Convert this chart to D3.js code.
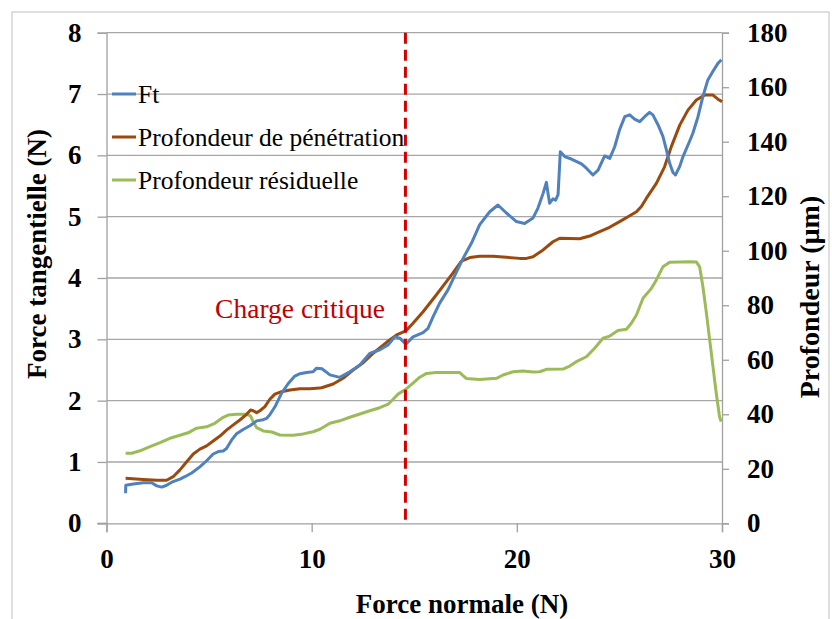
<!DOCTYPE html>
<html>
<head>
<meta charset="utf-8">
<script src="https://cdn.jsdelivr.net/npm/d3@7"></script>
<style>
  html, body { margin: 0; padding: 0; background: #fff; }
  svg { display: block; }
  text { font-family: "Liberation Serif", "Times New Roman", serif; }
</style>
</head>
<body>
<svg id="chart" width="832" height="619"></svg>
<script>
// Normal force (N) and tangential force Ft (N)
const ftNormal = [0.93, 0.94, 1.31, 1.79, 2.20, 2.45, 2.69, 2.93, 3.18, 3.58, 3.82, 4.15, 4.55, 4.88, 5.20, 5.45, 5.69, 5.85, 6.10, 6.34, 6.66, 6.99, 7.32, 7.64, 7.80, 7.96, 8.21, 8.53, 8.86, 9.18, 9.43, 9.75, 10.07, 10.24, 10.50, 10.89, 11.37, 11.86, 12.35, 12.83, 13.32, 13.73, 14.05, 14.30, 14.59, 14.94, 15.43, 15.67, 15.92, 16.24, 16.65, 17.06, 17.38, 17.79, 18.19, 18.68, 19.08, 19.49, 19.98, 20.38, 20.79, 21.03, 21.28, 21.44, 21.52, 21.60, 21.76, 21.89, 22.01, 22.12, 22.33, 22.66, 23.15, 23.39, 23.71, 23.96, 24.28, 24.53, 24.77, 25.01, 25.26, 25.50, 25.74, 25.99, 26.23, 26.47, 26.63, 26.88, 27.12, 27.29, 27.45, 27.61, 27.73, 27.94, 28.10, 28.42, 28.58, 28.83, 29.07, 29.31, 29.56, 29.80, 29.97];
const ftValues = [0.49, 0.62, 0.64, 0.66, 0.66, 0.61, 0.59, 0.62, 0.67, 0.72, 0.76, 0.82, 0.92, 1.02, 1.13, 1.17, 1.18, 1.22, 1.36, 1.46, 1.53, 1.59, 1.67, 1.69, 1.71, 1.77, 1.90, 2.12, 2.28, 2.40, 2.44, 2.46, 2.47, 2.53, 2.52, 2.42, 2.38, 2.47, 2.58, 2.77, 2.83, 2.91, 3.04, 3.02, 2.92, 3.04, 3.11, 3.18, 3.37, 3.59, 3.81, 4.10, 4.32, 4.57, 4.87, 5.08, 5.19, 5.06, 4.92, 4.89, 4.98, 5.14, 5.38, 5.56, 5.38, 5.22, 5.29, 5.27, 5.36, 6.06, 5.98, 5.94, 5.86, 5.79, 5.68, 5.76, 5.99, 5.95, 6.14, 6.42, 6.63, 6.66, 6.59, 6.55, 6.63, 6.70, 6.66, 6.50, 6.31, 6.09, 5.87, 5.72, 5.68, 5.82, 5.98, 6.23, 6.36, 6.63, 6.96, 7.23, 7.37, 7.50, 7.56];

// Penetration depth (µm)
const penNormal = [0.93, 1.79, 2.45, 2.93, 3.25, 3.58, 3.91, 4.23, 4.55, 4.88, 5.20, 5.53, 5.85, 6.18, 6.50, 6.83, 7.02, 7.15, 7.32, 7.48, 7.72, 7.96, 8.21, 8.53, 8.94, 9.43, 9.91, 10.40, 10.56, 11.05, 11.53, 12.02, 12.51, 13.00, 13.65, 14.14, 14.59, 14.94, 15.43, 15.92, 16.41, 16.89, 17.30, 17.71, 18.19, 18.84, 19.49, 20.14, 20.47, 20.79, 21.28, 21.76, 22.09, 23.06, 23.55, 24.04, 24.52, 25.01, 25.42, 25.83, 26.07, 26.31, 26.80, 27.20, 27.53, 27.94, 28.34, 28.75, 29.15, 29.56, 29.80, 30.00];
const penValues = [16.5, 16.1, 15.8, 15.8, 17.1, 19.6, 22.6, 25.4, 27.2, 28.4, 30.2, 32.0, 34.2, 36.1, 37.9, 40.0, 41.6, 41.3, 40.6, 41.3, 42.8, 45.5, 47.4, 48.3, 48.9, 49.4, 49.4, 49.6, 49.9, 51.1, 53.2, 56.2, 58.9, 62.4, 66.4, 69.1, 70.6, 73.4, 77.6, 82.3, 87.1, 91.9, 96.2, 97.5, 98.0, 98.0, 97.6, 97.2, 97.2, 97.8, 100.3, 103.3, 104.6, 104.4, 105.4, 107.0, 108.6, 110.7, 112.5, 114.3, 116.2, 119.2, 124.7, 130.8, 138.2, 146.1, 151.6, 155.3, 157.1, 157.1, 155.6, 154.7];

// Residual depth (µm)
const resNormal = [0.93, 1.23, 1.63, 2.12, 2.61, 3.09, 3.58, 3.98, 4.39, 4.88, 5.28, 5.69, 5.93, 6.34, 6.83, 7.02, 7.15, 7.32, 7.64, 8.05, 8.45, 9.10, 9.59, 10.07, 10.40, 10.89, 11.37, 11.86, 12.35, 12.83, 13.32, 13.73, 13.97, 14.21, 14.59, 14.94, 15.27, 15.60, 16.08, 17.22, 17.35, 17.55, 18.19, 19.01, 19.33, 19.82, 20.30, 20.79, 21.11, 21.44, 22.25, 22.58, 22.90, 23.39, 23.79, 24.20, 24.53, 24.93, 25.34, 25.58, 25.83, 26.15, 26.56, 26.80, 27.12, 27.45, 27.94, 28.42, 28.75, 28.91, 29.07, 29.24, 29.40, 29.56, 29.72, 29.88, 29.96];
const resValues = [25.7, 25.7, 26.6, 28.1, 29.6, 31.2, 32.3, 33.2, 34.9, 35.4, 36.7, 38.9, 39.7, 40.0, 40.0, 39.4, 37.3, 35.1, 33.9, 33.5, 32.4, 32.3, 32.8, 33.6, 34.5, 36.7, 37.6, 38.9, 40.1, 41.3, 42.4, 43.7, 45.5, 47.4, 49.2, 51.4, 53.6, 55.0, 55.3, 55.3, 54.4, 53.1, 52.8, 53.2, 54.4, 55.6, 55.9, 55.5, 55.6, 56.5, 56.6, 57.7, 59.3, 61.1, 64.2, 67.9, 68.7, 70.7, 71.2, 73.4, 76.4, 82.6, 86.2, 89.3, 94.1, 95.8, 95.9, 96.0, 95.9, 94.1, 86.8, 77.1, 67.3, 57.5, 47.7, 39.1, 37.3];

const xTicks = [0, 10, 20, 30];
const leftTicks = [0, 1, 2, 3, 4, 5, 6, 7, 8];
const rightTicks = [0, 20, 40, 60, 80, 100, 120, 140, 160, 180];
const criticalLoad = 14.57;

const seriesNames = ["Ft", "Profondeur de pénétration", "Profondeur résiduelle"];
const seriesColors = ["#4f81bd", "#9a4a0e", "#9bbb59"];

const svg = d3.select("#chart");
const plot = { left: 106.5, right: 722, top: 32.7, bottom: 523.3 };

const x = d3.scaleLinear().domain([0, 30]).range([plot.left, plot.right]);
const yL = d3.scaleLinear().domain([0, 8]).range([plot.bottom, plot.top]);
const yR = d3.scaleLinear().domain([0, 180]).range([plot.bottom, plot.top]);

// chart frame
svg.append("rect").attr("x", 12).attr("y", 12).attr("width", 817).attr("height", 640)
  .attr("fill", "none").attr("stroke", "#bfbfbf").attr("stroke-width", 1);

// horizontal gridlines
svg.append("g").selectAll("line").data(leftTicks.filter(d => d > 0)).join("line")
  .attr("x1", plot.left).attr("x2", plot.right)
  .attr("y1", d => yL(d)).attr("y2", d => yL(d))
  .attr("stroke", "#a6a6a6").attr("stroke-width", 1.3);

const gray = "#a0a0a0";

// left axis
const gLeft = svg.append("g").attr("transform", `translate(${plot.left},0)`)
  .call(d3.axisLeft(yL).tickValues(leftTicks).tickSize(9).tickPadding(16).tickFormat(d3.format("d")));
// right axis
const gRight = svg.append("g").attr("transform", `translate(${plot.right},0)`)
  .call(d3.axisRight(yR).tickValues(rightTicks).tickSize(7).tickPadding(18).tickFormat(d3.format("d")));
// bottom axis
const gBottom = svg.append("g").attr("transform", `translate(0,${plot.bottom})`)
  .call(d3.axisBottom(x).tickValues(xTicks).tickSize(9).tickPadding(17).tickFormat(d3.format("d")));

[gLeft, gRight, gBottom].forEach(g => {
  g.select(".domain").attr("stroke", gray).attr("stroke-width", 1.3);
  g.selectAll(".tick line").attr("stroke", gray).attr("stroke-width", 1.3);
  g.selectAll(".tick text")
    .attr("font-family", "'Liberation Serif', 'Times New Roman', serif")
    .attr("font-weight", "bold").attr("font-size", 27).attr("fill", "#000");
});
gRight.selectAll(".tick text").attr("text-anchor", "start");
// zero tick of the left axis reaches below into the x axis line
svg.append("line").attr("x1", plot.left - 9).attr("x2", plot.left)
  .attr("y1", plot.bottom).attr("y2", plot.bottom).attr("stroke", gray).attr("stroke-width", 1.3);

// axis titles
svg.append("text").attr("x", 462).attr("y", 613).attr("text-anchor", "middle")
  .attr("font-weight", "bold").attr("font-size", 27).text("Force normale (N)");
svg.append("text").attr("transform", "translate(46,254) rotate(-90)")
  .attr("text-anchor", "middle").attr("font-weight", "bold").attr("font-size", 27)
  .text("Force tangentielle (N)");
svg.append("text").attr("transform", "translate(819,297) rotate(-90)")
  .attr("text-anchor", "middle").attr("font-weight", "bold").attr("font-size", 28)
  .text("Profondeur (µm)");

// series lines
const lineL = d3.line().x(d => x(d[0])).y(d => yL(d[1]));
const lineR = d3.line().x(d => x(d[0])).y(d => yR(d[1]));

const ftData = ftNormal.map((n, i) => [n, ftValues[i]]);
const penData = penNormal.map((n, i) => [n, penValues[i]]);
const resData = resNormal.map((n, i) => [n, resValues[i]]);

svg.append("path").datum(resData).attr("d", lineR)
  .attr("fill", "none").attr("stroke", seriesColors[2]).attr("stroke-width", 3).attr("stroke-linejoin", "round");
svg.append("path").datum(penData).attr("d", lineR)
  .attr("fill", "none").attr("stroke", seriesColors[1]).attr("stroke-width", 3).attr("stroke-linejoin", "round");
svg.append("path").datum(ftData).attr("d", lineL)
  .attr("fill", "none").attr("stroke", seriesColors[0]).attr("stroke-width", 3).attr("stroke-linejoin", "round");

// critical load marker
svg.append("line").attr("x1", x(criticalLoad)).attr("x2", x(criticalLoad))
  .attr("y1", plot.top).attr("y2", plot.bottom)
  .attr("stroke", "#d40000").attr("stroke-width", 3).attr("stroke-dasharray", "11,6");
svg.append("text").attr("x", 300).attr("y", 318).attr("text-anchor", "middle")
  .attr("font-size", 27.5).attr("fill", "#c00000").text("Charge critique");

// legend
const legend = svg.append("g");
const legendRows = [94, 137, 180];
seriesNames.forEach((name, i) => {
  legend.append("line").attr("x1", 112).attr("x2", 136)
    .attr("y1", legendRows[i]).attr("y2", legendRows[i])
    .attr("stroke", seriesColors[i]).attr("stroke-width", 3);
  legend.append("text").attr("x", 138).attr("y", legendRows[i] + 9)
    .attr("font-size", 25.5).attr("fill", "#000").text(name);
});
</script>
</body>
</html>
